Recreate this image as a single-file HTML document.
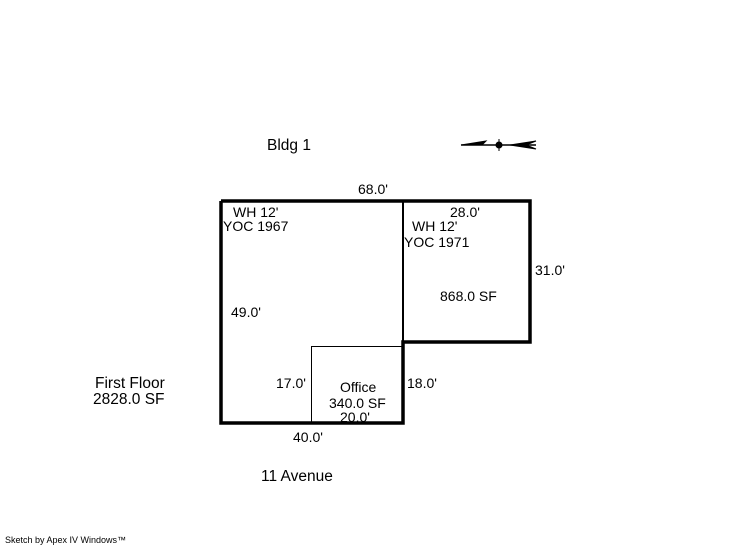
<!DOCTYPE html>
<html><head><style>
body{margin:0;background:#fff;}
svg text{font-family:"Liberation Sans",Arial,sans-serif;font-size:14px;fill:#000;}
</style></head><body>
<svg width="746" height="547" viewBox="0 0 746 547" xmlns="http://www.w3.org/2000/svg">
<rect width="746" height="547" fill="#fff"/>
<text x="267" y="150" style="font-size:15.5px">Bldg 1</text>
<g stroke="#000" fill="#000">
<line x1="461" y1="145" x2="536" y2="145" stroke-width="1.5"/>
<polygon points="461,145 486,141 482,145" />
<polygon points="510,145 536,141 526,145 536,149" />
<circle cx="499" cy="145" r="3"/>
<line x1="499" y1="139" x2="499" y2="151" stroke-width="1"/>
</g>
<polyline points="221,201 530,201 530,342 403,342 403,423 221,423 221,201" fill="none" stroke="#000" stroke-width="3.5"/>
<line x1="403" y1="201" x2="403" y2="342" stroke="#000" stroke-width="2"/>
<rect x="311.5" y="346.5" width="91" height="76" fill="none" stroke="#000" stroke-width="1"/>
<text x="358" y="194">68.0'</text>
<text x="233" y="217">WH 12'</text>
<text x="223" y="231">YOC 1967</text>
<text x="450" y="217">28.0'</text>
<text x="412" y="231">WH 12'</text>
<text x="404" y="247">YOC 1971</text>
<text x="535" y="275">31.0'</text>
<text x="440" y="301">868.0 SF</text>
<text x="231" y="317">49.0'</text>
<text x="276" y="388">17.0'</text>
<text x="340" y="392">Office</text>
<text x="329" y="408">340.0 SF</text>
<text x="340" y="422">20.0'</text>
<text x="407" y="388">18.0'</text>
<text x="293" y="442">40.0'</text>
<text x="95" y="388" style="font-size:15.5px">First Floor</text>
<text x="93" y="404" style="font-size:15.5px">2828.0 SF</text>
<text x="261" y="481" style="font-size:15.5px">11 Avenue</text>
<text x="5" y="543" style="font-size:9px">Sketch by Apex IV Windows™</text>
</svg>
</body></html>
